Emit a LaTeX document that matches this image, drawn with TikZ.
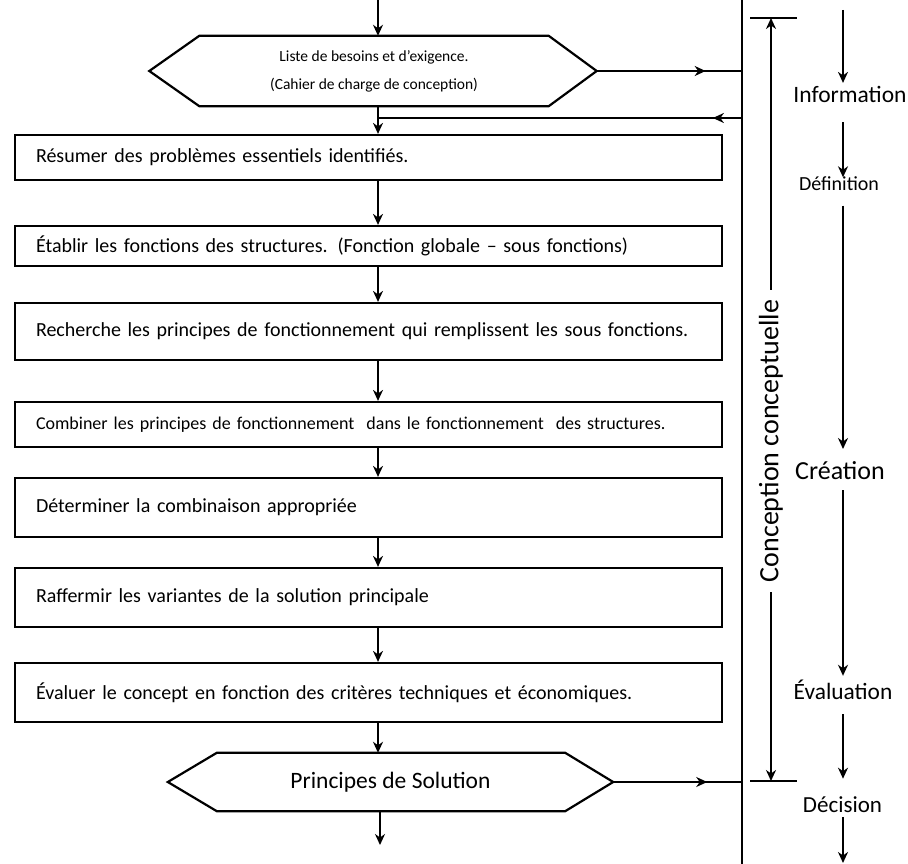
\documentclass[tikz,border=0pt]{standalone}
\usepackage{fontspec}
\setmainfont{Carlito}
\usetikzlibrary{arrows.meta,decorations.markings}
\begin{document}
\begin{tikzpicture}[x=1pt,y=-1pt,
  tip/.style={-{Stealth[length=11pt,width=10pt,inset=3.5pt]}},
  conn/.style={line width=1.7pt, draw=black},
  frame/.style={draw=black, line width=2.2pt},
  stepbox/.style={frame, minimum width=707pt, text width=665pt, inner xsep=21pt,
    inner ysep=0pt, align=left, font=\fontsize{20}{24}\selectfont},
  hexnode/.style={inner sep=0pt, minimum width=445pt, align=center},
  midtip/.style={postaction={decorate}, decoration={markings,
    mark=at position #1 with {\arrow{Stealth[length=11pt,width=10pt,inset=3.5pt]}}}},
  phase/.style={inner sep=0pt, text height=0.7em, text depth=0.2em},
]
\useasboundingbox (0,0) rectangle (908,864);

% reference coordinates
\coordinate (axis) at (378,0);
\coordinate (vtop) at (742,0);
\coordinate (vbot) at (742,864);
\coordinate (fb) at (742,118);
\coordinate (exit) at (380,845);
\coordinate (ctop) at (771,18);
\coordinate (cbot) at (771,781);
\coordinate (rtop) at (843,10);
\coordinate (rbot) at (843,863);

% main vertical rule
\draw[conn] (vtop) -- (vbot);

% input hexagon
\node[hexnode, minimum height=70pt, font=\fontsize{15.5}{28}\selectfont] (h1) at (374,71)
  {Liste de besoins et d’exigence.\\(Cahier de charge de conception)};
\draw[frame] ([xshift=-2pt]h1.west) -- ([xshift=48pt]h1.north west) -- ([xshift=-48pt]h1.north east)
  -- (h1.east) -- ([xshift=-48pt]h1.south east) -- ([xshift=48pt]h1.south west) -- cycle;

% process steps
\node[stepbox, minimum height=45pt] (b1) at (368.5,157.5) {Résumer des problèmes essentiels identifiés.};
\node[stepbox, minimum height=40pt] (b2) at (368.5,246) {Établir les fonctions des structures. (Fonction globale – sous fonctions)};
\node[stepbox, minimum height=57pt] (b3) at (368.5,331.5) {Recherche les principes de fonctionnement qui remplissent les sous fonctions.};
\node[stepbox, minimum height=45pt, font=\fontsize{18}{22}\selectfont] (b4) at (368.5,424.5) {Combiner les principes de fonctionnement \ dans le fonctionnement \ des structures.};
\node[stepbox, minimum height=59pt] (b5) at (368.5,507.5) {Déterminer la combinaison appropriée};
\node[stepbox, minimum height=59pt] (b6) at (368.5,597.5) {Raffermir les variantes de la solution principale};
\node[stepbox, minimum height=59pt] (b7) at (368.5,692.5) {Évaluer le concept en fonction des critères techniques et économiques.};

% output hexagon
\node[hexnode, minimum height=58pt, font=\fontsize{23.5}{28}\selectfont] (h2) at (390.5,782) {Principes de Solution};
\draw[frame] (h2.west) -- ([xshift=49pt]h2.north west) -- ([xshift=-48pt]h2.north east)
  -- (h2.east) -- ([xshift=-48pt]h2.south east) -- ([xshift=49pt]h2.south west) -- cycle;

% flow arrows
\draw[conn,tip] (axis) -- (h1.north -| axis);
\draw[conn,tip] (h1.south -| axis) -- (b1.north -| axis);
\foreach \a/\b in {b1/b2,b2/b3,b3/b4,b4/b5,b5/b6,b6/b7}
  \draw[conn,tip] (\a.south -| axis) -- (\b.north -| axis);
\draw[conn,tip] (b7.south -| axis) -- (h2.north -| axis);
\draw[conn,tip] (h2.south -| exit) -- (exit);

% links to the rule
\draw[conn, midtip=0.75] (h1.east) -- (h1.east -| vtop);
\draw[conn, midtip=0.08] (fb) -- (fb -| axis);
\draw[conn, midtip=0.73] (h2.east) -- (h2.east -| vtop);

% span of the conceptual design phase
\node[rotate=90, inner sep=0pt, font=\fontsize{28}{28}\selectfont] (cc) at (771,441) {Conception conceptuelle};
\draw[conn,tip,shorten <=10pt] (cc.east -| ctop) -- (ctop);
\draw[conn,tip,shorten <=10pt] (cc.west -| cbot) -- (cbot);
\draw[conn] ([xshift=-21pt]ctop) -- ([xshift=26pt]ctop);
\draw[conn] ([xshift=-21pt]cbot) -- ([xshift=26pt]cbot);

% phases
\node[phase, font=\fontsize{23.5}{24}\selectfont] (info) at (850,100) {Information};
\node[phase, font=\fontsize{20}{24}\selectfont] (defi) at (839,188) {Définition};
\node[phase, font=\fontsize{26}{28}\selectfont] (crea) at (840,477) {Création};
\node[phase, font=\fontsize{23.4}{24}\selectfont] (eval) at (843,697) {Évaluation};
\node[phase, font=\fontsize{23}{24}\selectfont] (deci) at (842.5,810) {Décision};

\draw[conn,tip,shorten >=12.4pt] (rtop) -- (info.north -| rtop);
\draw[conn,tip,shorten <=17.4pt,shorten >=6pt] (info.south -| rtop) -- (defi.north -| rtop);
\draw[conn,tip,shorten <=13pt,shorten >=23.3pt] (defi.south -| rtop) -- (crea.north -| rtop);
\draw[conn,tip,shorten <=8.3pt,shorten >=16.5pt] (crea.south -| rtop) -- (eval.north -| rtop);
\draw[conn,tip,shorten <=12.5pt,shorten >=26.6pt] (eval.south -| rtop) -- (deci.north -| rtop);
\draw[conn,tip,shorten <=2.6pt] (deci.south -| rtop) -- (rbot);
\end{tikzpicture}
\end{document}
